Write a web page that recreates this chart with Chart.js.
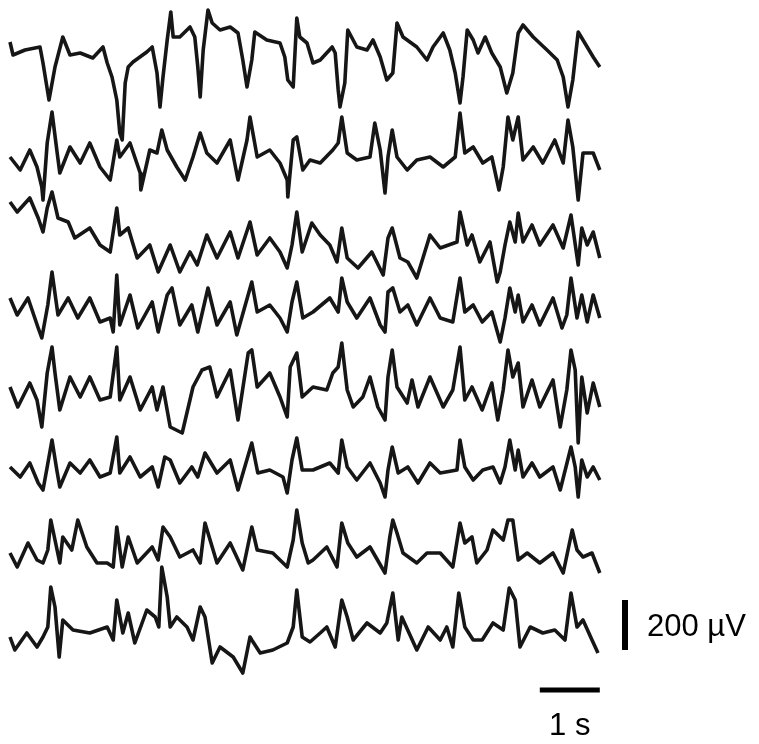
<!DOCTYPE html>
<html>
<head>
<meta charset="utf-8">
<script src="https://cdn.jsdelivr.net/npm/chart.js@4.4.1/dist/chart.umd.min.js"></script>
<style>
	body { margin: 0; background: #fff; }
	#wrap { width: 759px; height: 744px; }
</style>
</head>
<body>
<div id="wrap"><canvas id="eeg" width="759" height="744"></canvas></div>
<script>
// traces: time (s) and amplitude (µV)
var t1 = [0,0.05,0.25,0.5,0.55,0.65,0.75,0.88,1.0,1.17,1.38,1.55,1.62,1.7,1.78,1.83,1.87,1.92,1.97,2.05,2.28,2.37,2.45,2.5,2.55,2.62,2.68,2.72,2.83,3.0,3.08,3.13,3.17,3.22,3.3,3.37,3.5,3.67,3.8,3.88,3.95,4.03,4.08,4.28,4.5,4.58,4.63,4.72,4.78,4.83,4.95,5.05,5.17,5.37,5.42,5.47,5.5,5.58,5.63,5.78,5.95,6.05,6.17,6.28,6.38,6.45,6.55,6.78,6.95,7.05,7.22,7.33,7.42,7.5,7.55,7.62,7.72,7.8,7.92,8.03,8.17,8.28,8.38,8.47,8.55,8.72,8.95,9.12,9.22,9.3,9.38,9.47,9.62,9.72,9.83];
var ch1 = [52,0,20,32,-32,-180,-48,72,0,8,-12,32,-32,-88,-180,-312,-340,-112,-48,-28,12,32,-72,-208,-88,60,172,72,72,112,72,-48,-168,20,180,128,100,112,88,-20,-128,-20,92,60,48,-8,-100,-128,148,72,48,-32,-20,32,8,-140,-208,-112,100,32,20,60,-8,-100,-72,128,72,32,-20,32,88,20,-72,-192,-88,100,60,8,72,8,-48,-152,-72,88,120,72,20,-20,-88,-208,-100,92,32,-8,-48];

var t2 = [0,0.17,0.33,0.45,0.53,0.55,0.62,0.7,0.78,0.83,1.0,1.17,1.33,1.5,1.67,1.78,1.83,2.0,2.17,2.18,2.33,2.45,2.53,2.62,2.78,2.92,3.05,3.17,3.28,3.45,3.67,3.8,3.95,4.0,4.12,4.33,4.5,4.62,4.63,4.72,4.78,4.88,5.0,5.17,5.38,5.47,5.53,5.62,5.78,6.0,6.08,6.17,6.25,6.3,6.37,6.45,6.62,6.78,7.0,7.22,7.42,7.5,7.58,7.72,7.88,8.03,8.15,8.22,8.3,8.38,8.47,8.55,8.72,8.88,9.08,9.22,9.3,9.38,9.47,9.55,9.72,9.83];
var ch2 = [4,-48,32,-36,-116,-168,60,184,32,-60,44,-20,60,-36,-88,72,4,60,-60,-128,32,20,112,32,-36,-88,4,100,20,-20,72,-88,72,164,4,32,-20,-88,-156,72,84,-48,-8,-20,32,60,164,20,-8,4,140,32,-140,4,112,4,-48,-8,4,-36,4,180,20,44,-20,4,-128,-36,164,72,164,-8,44,-20,72,-20,152,44,-168,20,20,-48];

var t3 = [0,0.12,0.33,0.47,0.55,0.62,0.7,0.8,0.97,1.08,1.33,1.5,1.67,1.78,1.83,1.97,2.12,2.33,2.47,2.67,2.83,3.0,3.12,3.28,3.45,3.67,3.8,4.0,4.12,4.33,4.5,4.62,4.7,4.78,4.87,5.03,5.17,5.33,5.45,5.53,5.62,5.8,6.03,6.22,6.3,6.37,6.5,6.63,6.78,7.0,7.17,7.45,7.5,7.62,7.7,7.83,8.0,8.12,8.17,8.25,8.33,8.42,8.47,8.55,8.7,8.83,9.05,9.22,9.35,9.47,9.53,9.62,9.72,9.83];
var ch3 = [152,112,168,88,32,128,192,88,72,8,48,-20,-48,128,20,48,-72,-20,-128,-20,-128,-48,-100,20,-72,32,-72,72,-60,8,-48,-112,-20,112,-48,68,20,-20,-88,48,-72,-112,-48,-140,8,48,-72,-88,-152,20,-32,-8,112,-20,20,-88,-8,-168,-128,-20,72,-8,108,-8,60,-20,60,-32,100,-100,48,-20,32,-72];

var t4 = [0,0.12,0.3,0.47,0.53,0.63,0.7,0.8,0.97,1.13,1.33,1.5,1.67,1.72,1.78,1.83,2.0,2.13,2.37,2.47,2.62,2.7,2.83,3.03,3.13,3.3,3.45,3.67,3.78,4.03,4.12,4.33,4.5,4.62,4.7,4.78,4.88,5.05,5.33,5.47,5.53,5.62,5.78,6.0,6.17,6.25,6.3,6.38,6.5,6.63,6.78,7.0,7.17,7.38,7.5,7.58,7.72,7.87,8.03,8.17,8.25,8.33,8.42,8.47,8.55,8.7,8.83,9.05,9.2,9.28,9.35,9.45,9.53,9.62,9.72,9.83];
var ch4 = [40,-28,40,-80,-120,12,144,-28,40,-40,40,-56,-40,-96,132,-68,52,-80,24,-96,52,80,-68,12,-96,80,-68,24,-108,104,-16,12,-40,-96,24,104,-40,-16,40,-16,120,24,-40,40,-68,-96,64,80,-16,12,-68,40,-40,-56,120,-16,12,-56,-16,-136,-40,80,-16,52,-56,12,-68,40,-80,-28,120,-40,52,-56,52,-40];

var t5 = [0,0.13,0.33,0.45,0.53,0.62,0.7,0.75,0.83,1.0,1.17,1.33,1.5,1.67,1.78,1.83,2.0,2.17,2.37,2.45,2.55,2.67,2.87,3.05,3.2,3.33,3.45,3.67,3.8,3.97,4.03,4.12,4.33,4.5,4.62,4.67,4.78,4.87,5.05,5.28,5.38,5.47,5.53,5.62,5.72,5.88,6.0,6.13,6.25,6.3,6.37,6.45,6.62,6.7,6.8,7.0,7.22,7.38,7.5,7.58,7.7,7.87,8.03,8.13,8.22,8.3,8.38,8.47,8.55,8.7,8.83,9.05,9.17,9.28,9.35,9.42,9.47,9.53,9.62,9.72,9.83];
var ch5 = [12,-68,28,-40,-148,68,172,68,-80,52,-28,52,-40,-28,172,-40,52,-80,12,-80,12,-148,-172,12,80,92,-28,80,-120,148,160,12,68,-28,-108,92,148,-28,12,0,68,92,188,0,-68,-28,52,-68,-120,52,160,12,-52,40,-68,52,-68,0,172,-40,12,-80,28,-120,0,160,52,108,-68,40,-68,40,-148,0,160,80,-212,52,-92,28,-68];

var t6 = [0,0.17,0.33,0.47,0.55,0.62,0.7,0.78,0.83,1.0,1.17,1.33,1.5,1.67,1.78,1.83,2.0,2.17,2.37,2.47,2.58,2.67,2.83,3.03,3.13,3.25,3.45,3.67,3.8,4.03,4.13,4.33,4.55,4.62,4.7,4.78,4.87,5.05,5.33,5.47,5.53,5.62,5.78,6.0,6.17,6.25,6.3,6.37,6.47,6.63,6.8,7.0,7.17,7.45,7.5,7.58,7.72,7.88,8.05,8.17,8.25,8.33,8.42,8.47,8.55,8.7,8.83,9.05,9.17,9.35,9.42,9.47,9.53,9.62,9.72,9.83];
var ch6 = [12,-28,28,-52,-80,12,120,0,-68,28,-12,40,-28,-12,132,-12,52,-28,12,-68,52,40,-52,12,-28,68,-12,40,-80,108,-12,0,-28,-92,40,128,0,0,28,-12,120,12,-40,28,-52,-108,0,92,-12,12,-52,28,-12,0,120,12,-40,0,12,-52,12,120,0,80,-28,28,-28,12,-80,92,12,-108,40,-28,12,-40];

var t7 = [0,0.12,0.3,0.45,0.55,0.63,0.68,0.75,0.83,0.88,1.03,1.13,1.28,1.45,1.62,1.72,1.78,1.87,1.97,2.12,2.37,2.47,2.55,2.67,2.83,3.05,3.17,3.25,3.37,3.45,3.67,3.88,4.03,4.12,4.38,4.62,4.72,4.78,4.87,4.97,5.05,5.28,5.45,5.53,5.63,5.78,6.0,6.25,6.33,6.38,6.45,6.55,6.78,6.95,7.17,7.38,7.5,7.58,7.7,7.78,7.95,8.05,8.22,8.3,8.38,8.47,8.62,8.83,9.05,9.22,9.37,9.45,9.55,9.7,9.83];
var ch7 = [0,-56,40,-28,-40,12,132,52,-40,64,12,132,24,-40,-40,-56,104,-56,64,-40,24,-28,104,64,-16,12,-40,120,24,-40,40,-68,104,12,0,-56,52,172,40,-40,-28,24,-56,120,40,-16,24,-80,64,132,80,0,-40,0,0,-56,120,40,64,-40,12,92,52,132,132,-28,0,-40,0,-80,92,12,-16,0,-80];

var t8 = [0,0.08,0.28,0.45,0.55,0.63,0.68,0.75,0.82,0.88,1.05,1.33,1.62,1.72,1.78,1.88,1.97,2.08,2.28,2.42,2.48,2.53,2.62,2.67,2.78,2.95,3.05,3.17,3.25,3.37,3.5,3.72,3.88,4.0,4.03,4.17,4.38,4.62,4.72,4.78,4.87,5.0,5.17,5.28,5.42,5.53,5.62,5.72,5.95,6.17,6.28,6.38,6.47,6.53,6.78,6.97,7.17,7.28,7.38,7.48,7.58,7.72,7.87,8.05,8.22,8.32,8.42,8.5,8.67,8.88,9.08,9.25,9.35,9.45,9.55,9.7,9.8];
var ch8 = [-28,-80,-12,-68,-28,12,172,92,-108,40,0,-12,12,-40,120,-12,68,-52,80,52,12,252,132,12,52,12,-40,92,52,-132,-68,-108,-172,-28,-40,-92,-80,-52,12,160,-28,-48,-12,12,-68,120,52,-40,28,-12,28,148,-40,52,-80,12,-40,12,-68,148,12,-40,-40,28,0,168,120,-68,12,-12,0,-40,148,12,40,-40,-92];

// scale bars
var barTime = 1;     // s
var barVolt = 200;   // µV
var barLabels = ["1 s", "200 µV"];

// layout
var times = [t1, t2, t3, t4, t5, t6, t7, t8];
var traces = [ch1, ch2, ch3, ch4, ch5, ch6, ch7, ch8];
var offsets = [-220, -632, -960, -1232, -1560, -1880, -2212, -2520]; // stacking, µV

var tEnd = t1[t1.length - 1];
var datasets = [];
traces.forEach(function(v, i) {
	var pts = [];
	for (var k = 0; k < v.length; k++) pts.push({x: times[i][k], y: v[k] + offsets[i]});
	datasets.push({
		data: pts,
		borderColor: "#161616",
		borderWidth: 3.6,
		pointRadius: 0,
		tension: 0,
		borderJoinStyle: "round"
	});
});
// horizontal (time) bar
var hBarY = offsets[7] - 240;
datasets.push({
	data: [{x: tEnd - barTime, y: hBarY}, {x: tEnd, y: hBarY}],
	borderColor: "#000", borderWidth: 5, pointRadius: 0, borderCapStyle: "butt"
});
// vertical (amplitude) bar
var vBarX = tEnd + 0.42;
var vBarTop = offsets[7] + 120;
datasets.push({
	data: [{x: vBarX, y: vBarTop}, {x: vBarX, y: vBarTop - barVolt}],
	borderColor: "#000", borderWidth: 6, pointRadius: 0, borderCapStyle: "butt"
});

var barText = {
	id: "barText",
	afterDraw: function(chart) {
		var c = chart.ctx, xs = chart.scales.x, ys = chart.scales.y;
		c.save();
		c.fillStyle = "#000";
		c.font = "31px 'Liberation Sans', Arial, sans-serif";
		c.textAlign = "center";
		c.textBaseline = "alphabetic";
		c.fillText(barLabels[0], xs.getPixelForValue(tEnd - barTime / 2), ys.getPixelForValue(hBarY) + 45);
		c.textAlign = "left";
		c.fillText(barLabels[1], xs.getPixelForValue(vBarX) + 22, ys.getPixelForValue(vBarTop - barVolt / 2) + 11);
		c.restore();
	}
};

new Chart(document.getElementById("eeg"), {
	type: "line",
	data: { datasets: datasets },
	options: {
		responsive: false,
		animation: false,
		layout: { padding: 0 },
		plugins: { legend: { display: false }, tooltip: { enabled: false } },
		scales: {
			x: { type: "linear", display: false, min: -10 / 60, max: 749 / 60 },
			y: { display: false, min: -2976, max: 0 }
		}
	},
	plugins: [barText]
});
</script>
</body>
</html>
